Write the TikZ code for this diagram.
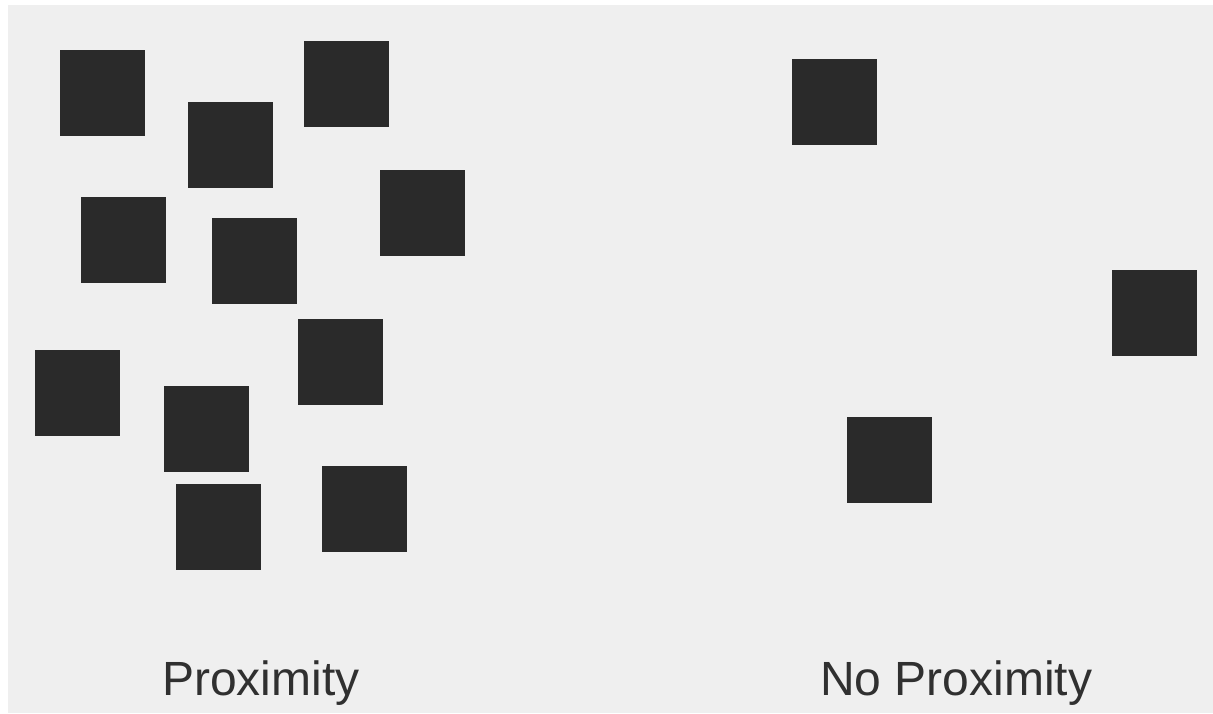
\documentclass[tikz,border=0pt]{standalone}
\usepackage{fontspec}
\setmainfont{Liberation Sans}
\definecolor{bg}{HTML}{EFEFEF}
\definecolor{sq}{HTML}{2A2A2A}
\definecolor{txt}{HTML}{303030}
\begin{document}
\begin{tikzpicture}[x=1pt,y=-1pt,
  sqr/.style={fill=sq,draw=none,minimum width=85pt,minimum height=86pt,inner sep=0pt,outer sep=0pt,anchor=north west},
  lbl/.style={text=txt,font=\fontsize{48}{54}\selectfont,inner sep=0pt,anchor=base west}]
\useasboundingbox (0,0) rectangle (1213,713);
\fill[white] (0,0) rectangle (1213,713);
\fill[bg] (8,5) rectangle (1213,713);
% Proximity group
\node[sqr] (s1) at (60,50) {};
\node[sqr] (s2) at (188,102) {};
\node[sqr] (s3) at (304,41) {};
\node[sqr] (s4) at (81,197) {};
\node[sqr] (s5) at (212,218) {};
\node[sqr] (s6) at (380,170) {};
\node[sqr] (s7) at (298,319) {};
\node[sqr] (s8) at (35,350) {};
\node[sqr] (s9) at (164,386) {};
\node[sqr] (s10) at (176,484) {};
\node[sqr] (s11) at (322,466) {};
% No proximity group
\node[sqr] (n1) at (792,59) {};
\node[sqr] (n2) at (1112,270) {};
\node[sqr] (n3) at (847,417) {};
\node[lbl] (l1) at (162,695) {Proximity};
\node[lbl] (l2) at (820,695) {No Proximity};
\end{tikzpicture}
\end{document}
